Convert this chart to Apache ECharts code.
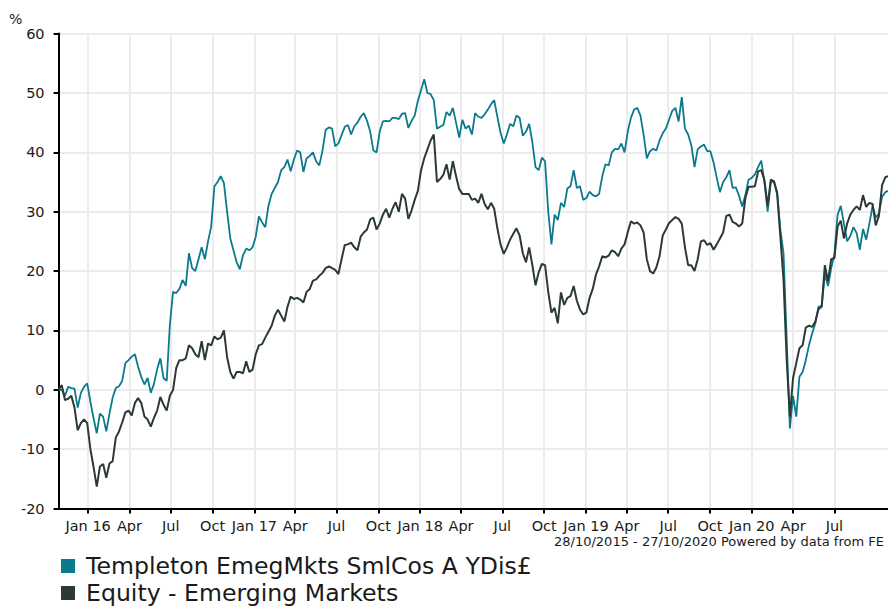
<!DOCTYPE html>
<html>
<head>
<meta charset="utf-8">
<script src="https://cdn.jsdelivr.net/npm/echarts@6/dist/echarts.min.js"></script>
<style>
html,body{margin:0;padding:0;background:#fff;}
#chart{width:888px;height:607px;}
</style>
</head>
<body>
<div id="chart"></div>
<script>
// ---- data ----
const seriesNames = ['Templeton EmegMkts SmlCos A YDis\u00A3', 'Equity - Emerging Markets'];
const startDate = '2015-10-28';
const endDate = '2020-10-27';
const stepDays = 7; // weekly observations
const quarterTicks = ['2016-01-01','2016-04-01','2016-07-01','2016-10-01',
  '2017-01-01','2017-04-01','2017-07-01','2017-10-01',
  '2018-01-01','2018-04-01','2018-07-01','2018-10-01',
  '2019-01-01','2019-04-01','2019-07-01','2019-10-01',
  '2020-01-01','2020-04-01','2020-07-01'];
const monthNames = ['Jan','Feb','Mar','Apr','May','Jun','Jul','Aug','Sep','Oct','Nov','Dec'];
const footerText = '28/10/2015 - 27/10/2020 Powered by data from FE';

const templeton = [
  0, 0, -1, 0.5, 0.3, 0.2, -3, -0.5, 0.5, 1.1,
  -2, -4.8, -7.3, -4, -4.5, -7, -4, -1.3, 0.3, 0.6,
  1.5, 4.5, 5, 5.6, 6, 3.9, 2.2, 0.9, 2, -0.5,
  1, 3.5, 5.3, 2, 1.5, 11, 16.5, 16.3, 17, 18.5,
  17.5, 23, 20.5, 20, 22, 24, 22, 25, 27.5, 34.3,
  35, 36, 34.8, 30, 25.5, 23.5, 21.5, 20.3, 22.7, 23.8,
  23.5, 24, 25.8, 29.2, 28.2, 27.4, 31, 33, 34, 35,
  37, 37.5, 38.8, 36.8, 38.8, 40.3, 40, 36.7, 39, 39.4,
  40, 38.5, 37.8, 40.3, 43.8, 44.2, 44, 41, 41.5, 42.9,
  44.3, 44.6, 43, 44.4, 45, 46, 46.6, 45.3, 43.5, 40.3,
  40, 43.5, 45.2, 45.3, 45.2, 45.8, 45.8, 45.6, 46.5, 46.6,
  44.1, 45.3, 46.2, 48.7, 50.5, 52.3, 50, 49.8, 48.8, 44,
  44.3, 44.6, 46.8, 46.2, 47.5, 45, 42.5, 45.5, 44, 44.5,
  43, 46.6, 46, 45.8, 46.4, 47.2, 48.1, 48.8, 46, 43.3,
  41.5, 43, 44.8, 44.4, 46.2, 45.8, 42.8, 43.5, 44.8, 41.7,
  37.5, 37, 39.1, 38.5, 30, 24.5, 29.5, 28.6, 31.5, 30.8,
  33.9, 34.3, 37, 34, 34.3, 32, 32.3, 33.4, 32.8, 32.6,
  33, 36, 38, 37.8, 40, 40.6, 40.5, 41.5, 40, 43.5,
  45.8, 47.2, 47.5, 46.2, 43, 39, 40.2, 40.6, 40.3, 42,
  43.2, 44, 45.5, 47, 47.5, 45.2, 49.3, 44, 43, 41.2,
  37.5, 40.5, 41, 41.3, 40.2, 40.2, 38.3, 35.7, 33.3, 35,
  35.8, 37, 34, 34.1, 32.7, 30.9, 32.8, 35.4, 35.7, 36.3,
  37.5, 38.6, 35, 30, 35, 35.1, 33.3, 27, 23, 8.5,
  -6.5, -1, -4.5, 2.2, 3, 5, 7.5, 9.5, 11.2, 14,
  14.1, 19.5, 17.5, 20.5, 22.8, 29.5, 31, 28, 25, 25.9,
  27.4, 26.4, 23.6, 27.1, 25.3, 28, 31, 29, 29.7, 32.5,
  33.3, 33.5
];

const equity = [
  0, 0.8, -1.7, -1.5, -1, -3, -6.8, -5.6, -5, -5.6,
  -10, -13, -16.3, -12.9, -12.5, -14.8, -12.4, -12, -8, -7,
  -5.5, -3.8, -3.5, -4.3, -2.2, -1.4, -2.2, -4.5, -5, -6.2,
  -4.7, -3.5, -1.2, -2.5, -3.5, -1, 0, 3.7, 5, 5,
  5.3, 7.5, 7, 6, 5.5, 8.2, 5, 7.8, 7.5, 9,
  8.5, 8.8, 10, 5.5, 3, 1.9, 3, 3, 2.8, 4.8,
  3, 3.4, 6, 7.5, 7.7, 8.8, 9.8, 10.8, 12.5, 13.5,
  12.5, 11.5, 14, 15.7, 15.3, 15.5, 15.2, 14.7, 16.5, 17,
  18.4, 18.6, 19.2, 19.7, 20.5, 20.8, 20.5, 20.2, 19.5, 22,
  24.4, 24.5, 24.8, 24, 23.5, 25.8, 26.5, 27, 28.7, 29,
  27, 28, 29.5, 30.5, 29, 30.5, 31.6, 30, 33, 32.2,
  28.8, 30.2, 32, 33.5, 37, 39, 40.5, 42, 43, 35,
  35.5, 36.2, 38, 35.4, 38.5, 36, 33.8, 33, 33, 33,
  32, 32.2, 31.5, 33, 31.3, 30.4, 31.5, 30.5, 27.2, 24.5,
  22.9, 24, 25.3, 26.3, 27.2, 26, 23, 21.5, 24, 21,
  17.6, 19.8, 21.2, 21, 16.5, 13, 13.8, 11.2, 16.4, 14.3,
  15.5, 15.8, 17.5, 15, 13.5, 12.7, 13, 15.5, 17, 19.4,
  20.8, 22.5, 22.3, 22.6, 23.5, 23.2, 22.5, 23.8, 24.5, 26.5,
  28.4, 28, 28.2, 27.7, 26.5, 22, 20, 19.6, 20.6, 22.5,
  26, 27, 28.1, 28.6, 29.1, 28.8, 28, 24, 21, 21,
  20, 22, 25, 25.2, 24.4, 24.7, 23.6, 24.5, 25.5, 26.5,
  29.3, 29.5, 28.3, 28, 27.5, 28, 32.3, 34.2, 34.2, 34.3,
  36.8, 37, 35.3, 31, 35.4, 35.1, 33, 25.8, 18.5, 5,
  -4.5, 2, 4.5, 7, 7.5, 10.5, 10.8, 10.6, 11.5, 13.6,
  14, 21, 18.3, 22, 22.2, 27.5, 28.5, 25.5, 28, 29.5,
  30.3, 30.9, 30.3, 32.8, 30.8, 31.5, 31.3, 27.7, 29.3, 34.5,
  35.8, 36
];

// ---- build ----
function parseDate(s) {
  const p = s.split('-').map(Number);
  return new Date(p[0], p[1] - 1, p[2]).getTime();
}
const t0 = parseDate(startDate);
const t1 = parseDate(endDate);
function dateAt(i) {
  const d = new Date(t0);
  d.setDate(d.getDate() + i * stepDays);
  return Math.min(d.getTime(), t1);
}
const tickValues = quarterTicks.map(parseDate);
const FONT = 'DejaVu Sans';

function legendFor(name, top) {
  return {
    orient: 'vertical',
    left: 61,
    top: top,
    padding: 0,
    icon: 'rect',
    itemWidth: 14,
    itemHeight: 14,
    selectedMode: false,
    textStyle: {fontFamily: FONT, fontSize: 23.6, color: '#1a1a1a', padding: [0, 0, 0, 6]},
    data: [name]
  };
}

const chart = echarts.init(document.getElementById('chart'), null, {renderer: 'svg'});
chart.setOption({
  animation: false,
  backgroundColor: '#ffffff',
  grid: {left: 58.6, top: 33.6, width: 833.2, height: 475, containLabel: false},
  legend: [legendFor(seriesNames[0], 554), legendFor(seriesNames[1], 581)],
  xAxis: {
    type: 'value',
    min: t0,
    max: t1,
    axisLine: {show: true, onZero: false, lineStyle: {color: '#000', width: 2}},
    axisTick: {show: true, length: 5, lineStyle: {color: '#000', width: 2}, customValues: tickValues},
    axisLabel: {
      customValues: tickValues,
      hideOverlap: false,
      fontFamily: FONT, fontSize: 14.5, color: '#1a1a1a', margin: 10,
      formatter: function (v) {
        const d = new Date(v);
        const m = d.getMonth();
        if (m === 0) return 'Jan ' + String(d.getFullYear()).slice(2);
        return monthNames[m];
      }
    },
    splitLine: {show: true, lineStyle: {color: '#ececec', width: 2}}
  },
  yAxis: {
    type: 'value',
    min: -20,
    max: 60,
    interval: 10,
    axisLine: {show: true, lineStyle: {color: '#000', width: 2}},
    axisTick: {show: true, length: 5, lineStyle: {color: '#000', width: 2}},
    axisLabel: {fontFamily: FONT, fontSize: 14.5, color: '#1a1a1a', margin: 14},
    splitLine: {show: true, lineStyle: {color: '#ececec', width: 2}}
  },
  graphic: [
    {type: 'text', left: 9, top: 12, style: {text: '%', font: '14px "DejaVu Sans"', fill: '#1a1a1a'}},
    {type: 'text', left: 554, top: 535, style: {text: footerText, font: '13px "DejaVu Sans"', fill: '#1a1a1a'}}
  ],
  series: [
    {
      name: seriesNames[0], type: 'line', showSymbol: false, symbol: 'none',
      color: '#0a7a8c', lineStyle: {color: '#0a7a8c', width: 1.8},
      data: templeton.map((v, i) => [dateAt(i), v])
    },
    {
      name: seriesNames[1], type: 'line', showSymbol: false, symbol: 'none',
      color: '#2c3a36', lineStyle: {color: '#2c3a36', width: 2},
      data: equity.map((v, i) => [dateAt(i), v])
    }
  ]
});
</script>
</body>
</html>
